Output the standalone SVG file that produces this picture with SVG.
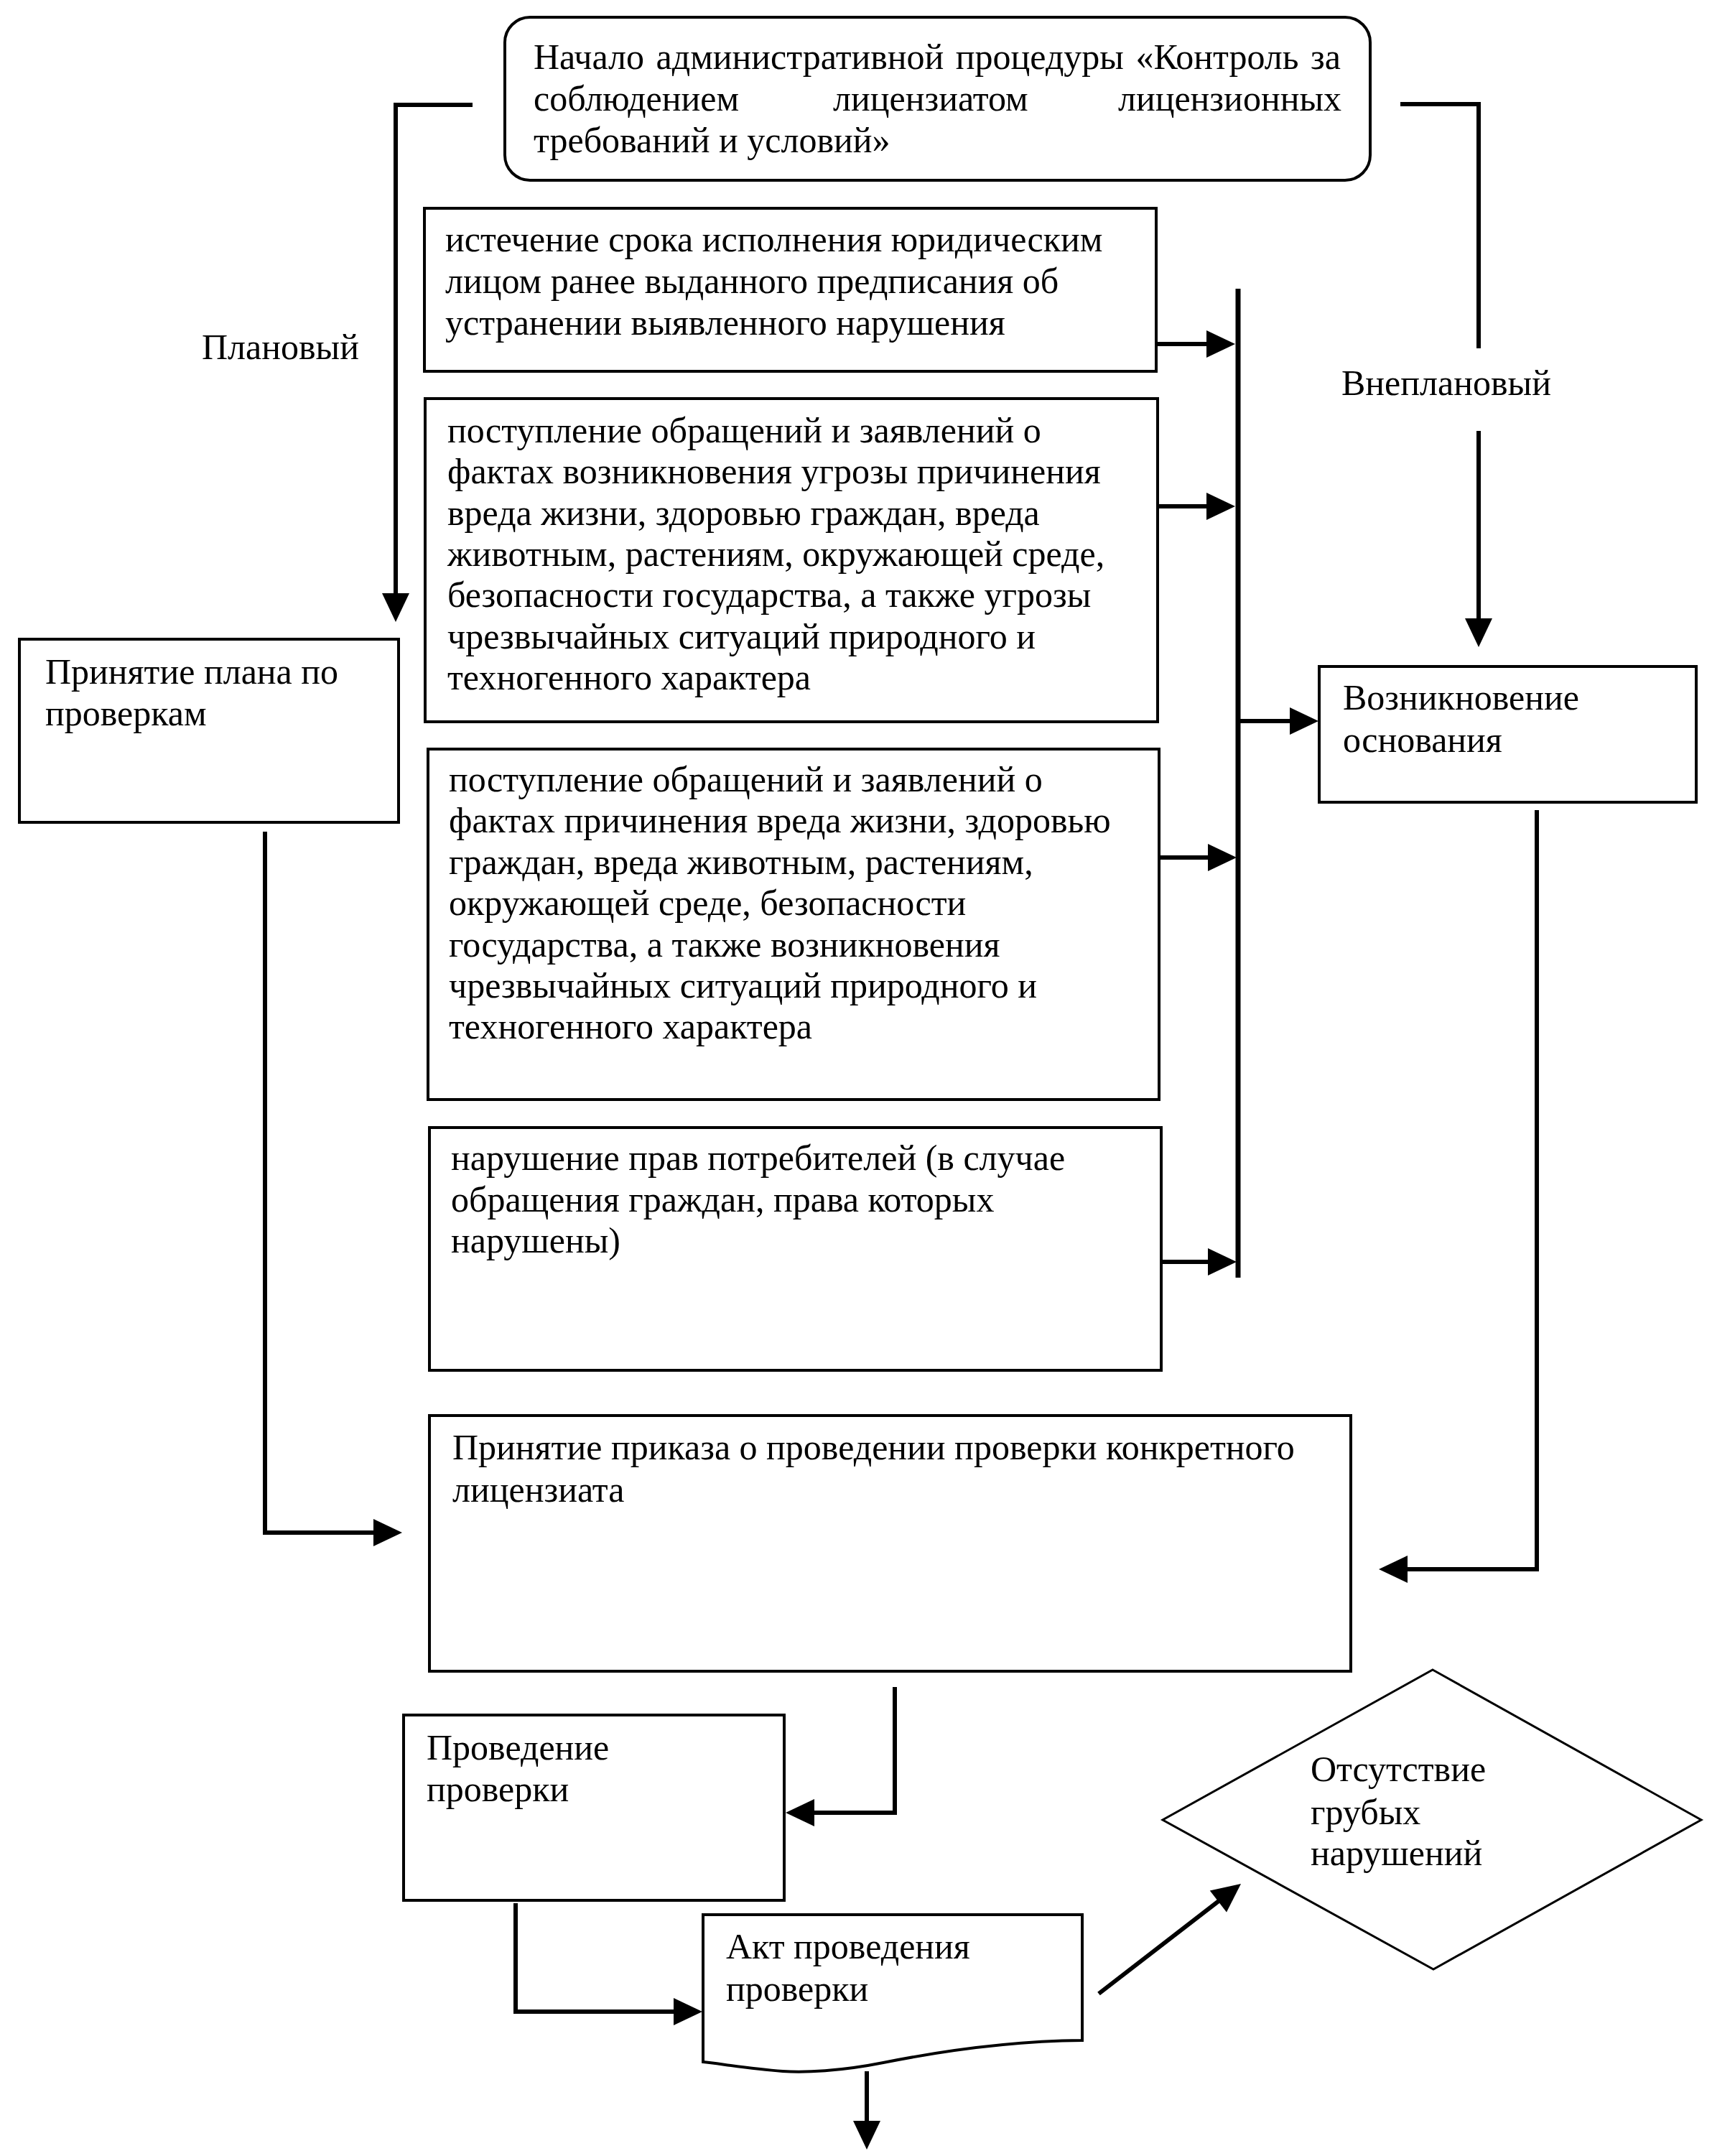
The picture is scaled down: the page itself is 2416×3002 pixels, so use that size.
<svg xmlns="http://www.w3.org/2000/svg" width="2416" height="3002" viewBox="0 0 2416 3002">
<style>
text{font-family:"Liberation Serif","Times New Roman",serif;font-size:50px;fill:#000}
.box{fill:#fff;stroke:#000;stroke-width:4}
.dia{fill:#fff;stroke:#000;stroke-width:3}
.c{fill:none;stroke:#000;stroke-width:6}
.bus{fill:none;stroke:#000;stroke-width:7}
</style>
<defs>
<marker id="ah" markerUnits="userSpaceOnUse" markerWidth="40" markerHeight="38" refX="8" refY="19" orient="auto" overflow="visible">
<path d="M0,0 L40,19 L0,38 Z" fill="#000"/>
</marker>
</defs>
<rect width="2416" height="3002" fill="#fff"/>

<g id="connectors">
<path class="c" d="M658,146 H551 V834" marker-end="url(#ah)"/>
<path class="c" d="M1950,145 H2059 V485"/>
<path class="c" d="M2059,600 V869" marker-end="url(#ah)"/>
<path class="bus" d="M1724,402 V1779"/>
<path class="c" d="M1610,479 H1688" marker-end="url(#ah)"/>
<path class="c" d="M1612,705 H1688" marker-end="url(#ah)"/>
<path class="c" d="M1614,1194 H1690" marker-end="url(#ah)"/>
<path class="c" d="M1617,1757 H1690" marker-end="url(#ah)"/>
<path class="c" d="M1724,1004 H1804" marker-end="url(#ah)"/>
<path class="c" d="M369,1158 V2134 H528" marker-end="url(#ah)"/>
<path class="c" d="M2140,1128 V2185 H1952" marker-end="url(#ah)"/>
<path class="c" d="M1246,2349 V2524 H1126" marker-end="url(#ah)"/>
<path class="c" d="M718,2650 V2801 H946" marker-end="url(#ah)"/>
<path class="c" d="M1530,2776 L1702.7,2642.6" marker-end="url(#ah)"/>
<path class="c" d="M1207,2884 V2961" marker-end="url(#ah)"/>
</g>

<g id="start">
<rect class="box" x="703" y="24" width="1205" height="227" rx="35" ry="35"/>
<text x="743" y="96" word-spacing="4">Начало административной процедуры «Контроль за</text>
<text x="743" y="154">соблюдением</text>
<text x="1160" y="154">лицензиатом</text>
<text x="1868" y="154" text-anchor="end">лицензионных</text>
<text x="743" y="212">требований и условий»</text>
</g>

<g id="label-planned">
<text x="281" y="500">Плановый</text>
</g>
<g id="label-unplanned">
<text x="1868" y="550">Внеплановый</text>
</g>

<g id="reason1">
<rect class="box" x="591" y="290" width="1019" height="227"/>
<text x="620" y="350">истечение срока исполнения юридическим</text>
<text x="620" y="408">лицом ранее выданного предписания об</text>
<text x="620" y="466">устранении выявленного нарушения</text>
</g>

<g id="reason2">
<rect class="box" x="592" y="555" width="1020" height="450"/>
<text x="623" y="616">поступление обращений и заявлений о</text>
<text x="623" y="673">фактах возникновения угрозы причинения</text>
<text x="623" y="731">вреда жизни, здоровью граждан, вреда</text>
<text x="623" y="788">животным, растениям, окружающей среде,</text>
<text x="623" y="845">безопасности государства, а также угрозы</text>
<text x="623" y="903">чрезвычайных ситуаций природного и</text>
<text x="623" y="960">техногенного характера</text>
</g>

<g id="reason3">
<rect class="box" x="596" y="1043" width="1018" height="488"/>
<text x="625" y="1102">поступление обращений и заявлений о</text>
<text x="625" y="1159">фактах причинения вреда жизни, здоровью</text>
<text x="625" y="1217">граждан, вреда животным, растениям,</text>
<text x="625" y="1274">окружающей среде, безопасности</text>
<text x="625" y="1332">государства, а также возникновения</text>
<text x="625" y="1389">чрезвычайных ситуаций природного и</text>
<text x="625" y="1446">техногенного характера</text>
</g>

<g id="reason4">
<rect class="box" x="598" y="1570" width="1019" height="338"/>
<text x="628" y="1629">нарушение прав потребителей (в случае</text>
<text x="628" y="1687">обращения граждан, права которых</text>
<text x="628" y="1744">нарушены)</text>
</g>

<g id="basis">
<rect class="box" x="1837" y="928" width="525" height="189"/>
<text x="1870" y="988">Возникновение</text>
<text x="1870" y="1047">основания</text>
</g>

<g id="plan">
<rect class="box" x="27" y="890" width="528" height="255"/>
<text x="63" y="952">Принятие плана по</text>
<text x="63" y="1010">проверкам</text>
</g>

<g id="order">
<rect class="box" x="598" y="1971" width="1283" height="356"/>
<text x="630" y="2032">Принятие приказа о проведении проверки конкретного</text>
<text x="630" y="2091">лицензиата</text>
</g>

<g id="inspection">
<rect class="box" x="562" y="2388" width="530" height="258"/>
<text x="594" y="2450">Проведение</text>
<text x="594" y="2508">проверки</text>
</g>

<g id="act">
<path class="box" d="M979,2666 H1507 V2841 C1400,2842 1300,2858 1230,2872 C1170,2884 1120,2886 1090,2884 C1040,2880 1000,2873 979,2871 Z"/>
<text x="1011" y="2727">Акт проведения</text>
<text x="1011" y="2786">проверки</text>
</g>

<g id="no-violations">
<polygon class="dia" points="1995,2325 2369,2534 1996,2742 1619,2534"/>
<text x="1825" y="2480">Отсутствие</text>
<text x="1825" y="2540">грубых</text>
<text x="1825" y="2597">нарушений</text>
</g>
</svg>
